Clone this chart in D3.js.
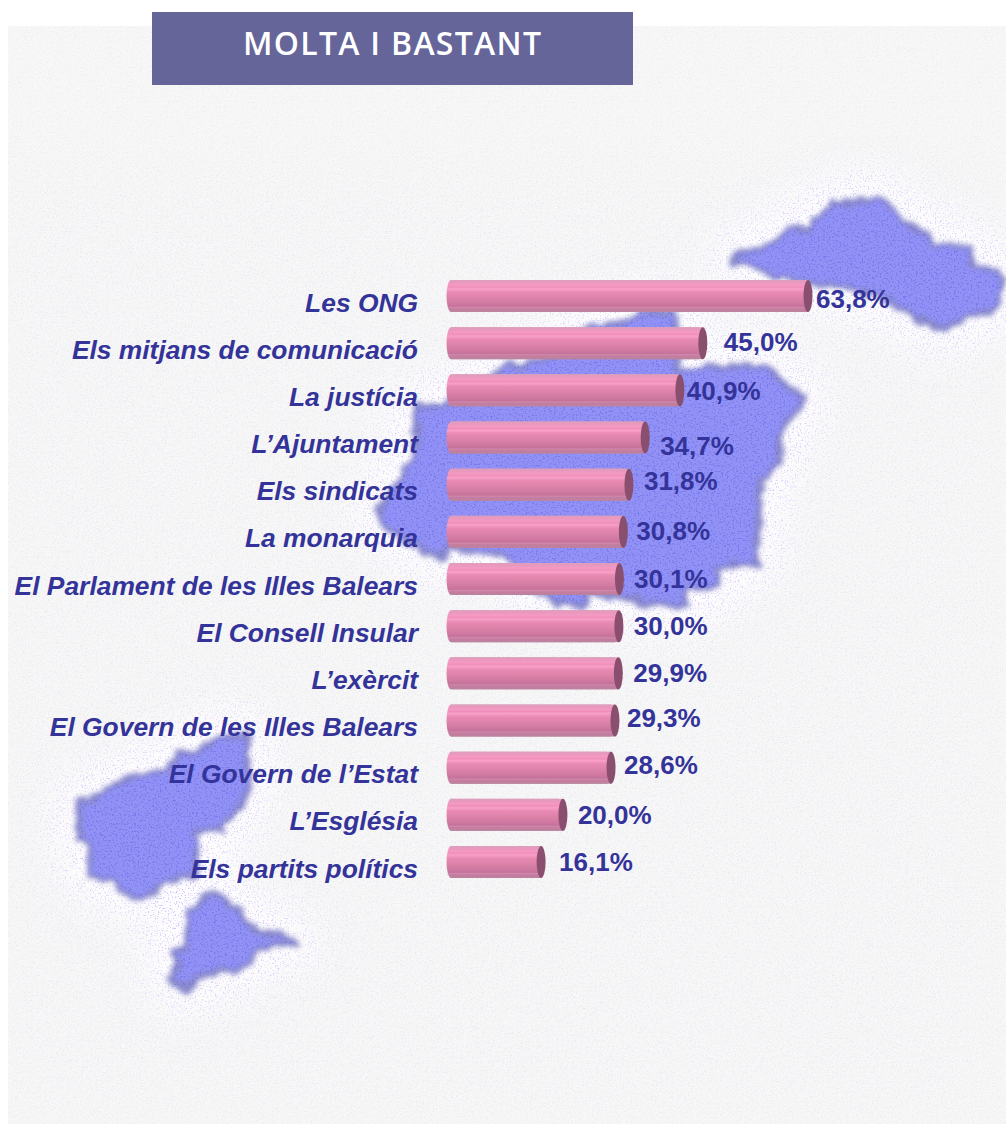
<!DOCTYPE html>
<html><head><meta charset="utf-8">
<script src="https://cdn.jsdelivr.net/npm/d3@7/dist/d3.min.js"></script>
<style>html,body{margin:0;padding:0;background:#fff}svg{display:block}
text{font-family:"Liberation Sans",Arial,sans-serif;font-weight:bold}</style>
</head><body><svg id="c" width="1006" height="1124"></svg>
<script>
const titleText = "MOLTA I BASTANT";
const categories = ["Les ONG","Els mitjans de comunicació","La justícia","L’Ajuntament","Els sindicats","La monarquia","El Parlament de les Illes Balears","El Consell Insular","L’exèrcit","El Govern de les Illes Balears","El Govern de l’Estat","L’Església","Els partits polítics"];
const values = [63.8,45.0,40.9,34.7,31.8,30.8,30.1,30.0,29.9,29.3,28.6,20.0,16.1];
// hand placement of the value labels in the original, relative to the bar end
const valueNudgeX = [8,21,7,15,15,13,14.5,15,15,12,13,15,18];
const valueNudgeY = [2,-2,0,8,-4,-1,-1,-1,-1,-3,-3,0,-1];

// map silhouettes in the background picture
const menorca = [[910,250],[985,235],[1040,180],[1090,170],[1140,100],[1270,90],[1310,150],[1370,190],[1400,225],[1480,240],[1490,290],[1545,300],[1560,355],[1540,420],[1470,440],[1420,480],[1340,440],[1300,400],[1250,370],[1100,340],[1000,320],[970,290],[915,280]].map(p=>[360+p[0]/2.427,170+p[1]/3]);
const mallorca = [[135,710],[215,700],[360,590],[450,570],[560,470],[650,460],[680,425],[760,425],[770,600],[850,590],[990,590],[1040,650],[1080,685],[1040,750],[1020,780],[1020,880],[970,930],[960,1180],[870,1190],[870,1250],[790,1260],[790,1305],[690,1300],[640,1280],[550,1270],[550,1305],[480,1300],[440,1270],[340,1150],[220,1130],[190,1165],[60,1070],[45,1020],[110,900],[135,860]].map(p=>[360+p[0]/2.427,170+p[1]/3]);
const ibiza = [[240,550],[310,520],[350,490],[430,470],[510,440],[530,405],[600,390],[660,350],[740,340],[745,500],[720,570],[660,625],[590,640],[585,770],[500,780],[430,835],[380,820],[340,775],[275,770],[270,670],[235,650]].map(p=>[p[0]/3,620+p[1]/3]);
const formentera = [[640,810],[700,860],[760,930],[860,950],[885,970],[770,985],[720,1040],[600,1070],[570,1105],[520,1095],[525,990],[560,980],[565,880]].map(p=>[p[0]/3,620+p[1]/3]);
const islands = [menorca,mallorca,ibiza,formentera];

const W = 1006, H = 1124;
const svg = d3.select("#c");
const defs = svg.append("defs");
const x = d3.scaleLinear().domain([0,63.8]).range([451,808]);
const y = d3.scalePoint().domain(categories).range([296,862]);
const barH = 32, capRx = 4.5;
const line = d3.line();

// filters
const blur = (id,s)=>defs.append("filter").attr("id",id).attr("x","-30%").attr("y","-30%").attr("width","160%").attr("height","160%")
  .append("feGaussianBlur").attr("stdDeviation",s);
blur("b20",24);
function speckle(id,freq,seed,color,slope,icpt){
  const f = defs.append("filter").attr("id",id).attr("x",0).attr("y",0).attr("width","100%").attr("height","100%").attr("color-interpolation-filters","sRGB");
  f.append("feTurbulence").attr("type","fractalNoise").attr("baseFrequency",freq).attr("numOctaves",2).attr("seed",seed).attr("result","n");
  const c = d3.color(color);
  f.append("feColorMatrix").attr("in","n").attr("type","matrix")
   .attr("values",`0 0 0 0 ${c.r/255} 0 0 0 0 ${c.g/255} 0 0 0 0 ${c.b/255} ${slope} 0 0 0 ${icpt}`);
}
speckle("spkLav",0.6,3,"#c4c4ff",7,-4.1);
speckle("spkPink",0.6,11,"#ffd0f0",7,-4.3);
speckle("spkDark",0.55,8,"#5050e0",7,-3.8);
speckle("tex",0.8,5,"#e6e6e6",5,-2.7);
// rough edges of the pixelated map
const rough = defs.append("filter").attr("id","rough").attr("filterUnits","userSpaceOnUse").attr("x",0).attr("y",0).attr("width",W).attr("height",H).attr("color-interpolation-filters","sRGB");
rough.append("feTurbulence").attr("type","fractalNoise").attr("baseFrequency",0.07).attr("numOctaves",2).attr("seed",4).attr("result","t");
rough.append("feDisplacementMap").attr("in","SourceGraphic").attr("in2","t").attr("scale",14).attr("xChannelSelector","R").attr("yChannelSelector","G").attr("result","d");
rough.append("feGaussianBlur").attr("in","d").attr("stdDeviation",2.4);

const grad = defs.append("linearGradient").attr("id","barG").attr("x1",0).attr("y1",0).attr("x2",0).attr("y2",1);
[[0,"#dc9fbb"],[0.07,"#e998bd"],[0.16,"#f49ac3"],[0.22,"#f08eba"],[0.28,"#f8a0c9"],[0.38,"#e98ab4"],[0.55,"#dd83aa"],[0.72,"#d079a1"],[0.82,"#c5729b"],[0.86,"#ce88aa"],[0.9,"#c67c9f"],[1,"#b9849f"]]
  .forEach(s=>grad.append("stop").attr("offset",s[0]).attr("stop-color",s[1]));

// masks from island shapes
const haloMask = defs.append("mask").attr("id","halo").attr("maskUnits","userSpaceOnUse").attr("x",0).attr("y",0).attr("width",W).attr("height",H);
const hg = haloMask.append("g").attr("filter","url(#b20)");
hg.selectAll("path").data(islands).join("path")
  .attr("d",d=>line(d)+"Z").attr("fill","#fff").attr("stroke","#fff").attr("stroke-width",50).attr("stroke-linejoin","round");
const blobMask = defs.append("mask").attr("id","blob").attr("maskUnits","userSpaceOnUse").attr("x",0).attr("y",0).attr("width",W).attr("height",H);
blobMask.append("g").selectAll("path").data(islands).join("path").attr("d",d=>line(d)+"Z").attr("fill","#fff");
const wideMask = defs.append("mask").attr("id","wide").attr("maskUnits","userSpaceOnUse").attr("x",0).attr("y",0).attr("width",W).attr("height",H);
wideMask.append("rect").attr("x",0).attr("y",170).attr("width",W).attr("height",H-170).attr("fill","#555").attr("filter","url(#b20)");

// background
svg.append("rect").attr("x",8).attr("y",26).attr("width",W-8).attr("height",H-26).attr("fill","#f7f7f7");
svg.append("rect").attr("x",8).attr("y",26).attr("width",W-8).attr("height",H-26).attr("filter","url(#tex)").attr("opacity",0.5);
defs.append("clipPath").attr("id","bg").append("rect").attr("x",8).attr("y",26).attr("width",W-8).attr("height",H-26);
const bgG = svg.append("g").attr("clip-path","url(#bg)");
bgG.append("g").attr("mask","url(#wide)").append("rect").attr("width",W).attr("height",H).attr("filter","url(#spkLav)").attr("opacity",0.5);
bgG.append("rect").attr("width",W).attr("height",H).attr("fill","#ffffff").attr("mask","url(#halo)");
bgG.append("g").attr("mask","url(#halo)").append("rect").attr("width",W).attr("height",H).attr("filter","url(#spkLav)");
bgG.append("g").attr("mask","url(#halo)").append("rect").attr("width",W).attr("height",H).attr("filter","url(#spkPink)").attr("opacity",0.6);
bgG.append("g").attr("filter","url(#rough)").selectAll("path").data(islands).join("path")
  .attr("d",d=>line(d)+"Z").attr("fill","#9292f6").attr("stroke","#8a8acc").attr("stroke-width",6).attr("stroke-linejoin","round");
bgG.append("g").attr("mask","url(#blob)").append("rect").attr("width",W).attr("height",H).attr("filter","url(#spkDark)").attr("opacity",0.35);

// title
svg.append("rect").attr("x",152).attr("y",12).attr("width",481).attr("height",73).attr("fill","#65659a");
svg.append("text").attr("x",243).attr("y",55).attr("fill","#fff").attr("font-size",32)
  .style("font-family","'Open Sans'").style("font-weight",600)
  .attr("textLength",298).attr("lengthAdjust","spacing").text(titleText);

// bars
const rows = categories.map((c,i)=>({c,v:values[i],dx:valueNudgeX[i],dy:valueNudgeY[i]}));
const g = svg.selectAll("g.row").data(rows).join("g").attr("class","row");
g.append("rect").attr("x",x(0)-capRx).attr("y",d=>y(d.c)-barH/2)
  .attr("width",d=>x(d.v)-x(0)+capRx).attr("height",barH).attr("rx",capRx).attr("ry",barH/2).attr("fill","url(#barG)");
g.append("rect").attr("x",x(0)).attr("y",d=>y(d.c)-barH/2)
  .attr("width",d=>x(d.v)-x(0)).attr("height",barH).attr("fill","url(#barG)");
g.append("ellipse").attr("cx",d=>x(d.v)).attr("cy",d=>y(d.c)).attr("rx",capRx).attr("ry",barH/2).attr("fill","#8a4f6e");
// category labels
g.append("text").attr("x",418).attr("y",d=>y(d.c)+15.5).attr("text-anchor","end").attr("font-style","italic")
  .attr("font-size",26.4).attr("fill","#333399").text(d=>d.c);
// value labels
g.append("text").attr("x",d=>x(d.v)+d.dx).attr("y",d=>y(d.c)+d.dy+9.5).attr("font-size",26).attr("fill","#333399")
  .text(d=>d.v.toFixed(1).replace(".",",")+"%");
</script></body></html>
